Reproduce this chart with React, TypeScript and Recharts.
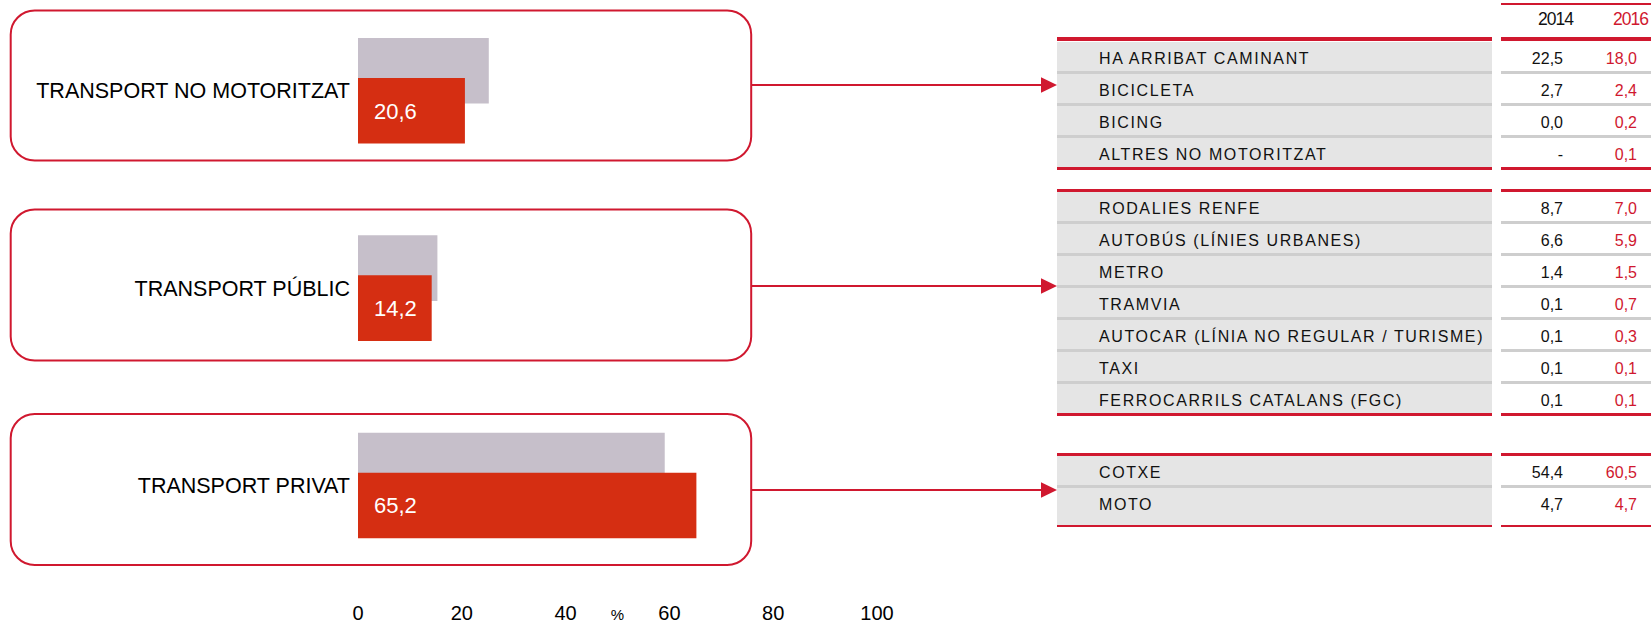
import * as React from "react";
import { BarChart, Bar, XAxis, YAxis, LabelList, Label } from "recharts";

// left chart: share of each transport group (%)
const CATEGORIES = ["TRANSPORT NO MOTORITZAT", "TRANSPORT PÚBLIC", "TRANSPORT PRIVAT"];
const SHARE_2014 = [25.2, 15.3, 59.1];
const SHARE_2016 = [20.6, 14.2, 65.2];
const X_TICKS = [0, 20, 40, 60, 80, 100];

// right table: detail per mode
const YEARS = ["2014", "2016"];
const NO_MOTOR_LABELS = ["HA ARRIBAT CAMINANT", "BICICLETA", "BICING", "ALTRES NO MOTORITZAT"];
const NO_MOTOR_2014 = [22.5, 2.7, 0.0, null];
const NO_MOTOR_2016 = [18.0, 2.4, 0.2, 0.1];
const PUBLIC_LABELS = [
  "RODALIES RENFE",
  "AUTOBÚS (LÍNIES URBANES)",
  "METRO",
  "TRAMVIA",
  "AUTOCAR (LÍNIA NO REGULAR / TURISME)",
  "TAXI",
  "FERROCARRILS CATALANS (FGC)",
];
const PUBLIC_2014 = [8.7, 6.6, 1.4, 0.1, 0.1, 0.1, 0.1];
const PUBLIC_2016 = [7.0, 5.9, 1.5, 0.7, 0.3, 0.1, 0.1];
const PRIVATE_LABELS = ["COTXE", "MOTO"];
const PRIVATE_2014 = [54.4, 4.7];
const PRIVATE_2016 = [60.5, 4.7];

const FONT = '"Liberation Sans", Arial, sans-serif';
const LINE_RED = "#d0182f";
const BAR_RED = "#d52e12";
const BAR_GREY = "#c6bfca";
const ROW_FILL = "#e5e5e5";
const ROW_SEP = "#cecece";

const fmt = (v: number | null) => (v === null ? "-" : v.toFixed(1).replace(".", ","));

const chartData = CATEGORIES.map((name, i) => ({
  name,
  y2014: SHARE_2014[i],
  y2016: SHARE_2016[i],
}));

// frames + arrows around the bar groups
const FRAMES = [
  { top: 10.5, bottom: 160.5, arrowY: 85 },
  { top: 209.5, bottom: 360.5, arrowY: 286 },
  { top: 414, bottom: 565, arrowY: 490 },
];

const LABEL_X0 = 1057;
const LABEL_X1 = 1492;
const NUM_X0 = 1501;
const NUM_X1 = 1651;
const ROW_H = 32;

function CategoryTick(props: any) {
  const { x, y, payload } = props;
  return (
    <text x={x} y={y} dy="0.36em" textAnchor="end" fill="#000" fontSize={21.5} fontFamily={FONT}>
      {payload.value}
    </text>
  );
}

function ValueTick(props: any) {
  const { x, y, payload } = props;
  return (
    <text x={x} y={y + 28} textAnchor="middle" fill="#000" fontSize={20} fontFamily={FONT}>
      {payload.value}
    </text>
  );
}

function PercentLabel(props: any) {
  const vb = props.viewBox;
  return (
    <text x={vb.x + vb.width / 2} y={vb.y + 36} textAnchor="middle" fill="#000" fontSize={15} fontFamily={FONT}>
      %
    </text>
  );
}

function BarValue(props: any) {
  const { x, y, height, value } = props;
  return (
    <text x={x + 16} y={y + height / 2} dy="0.36em" fill="#fff" fontSize={22} fontFamily={FONT}>
      {fmt(value)}
    </text>
  );
}

function abs(left: number, top: number, width: number, height: number, background: string): React.CSSProperties {
  return { position: "absolute", left, top, width, height, background };
}

function TableGroup(props: {
  top: number;
  lineH: number;
  extra: number;
  labels: string[];
  v2014: (number | null)[];
  v2016: (number | null)[];
}) {
  const { top, lineH, extra, labels, v2014, v2016 } = props;
  const total = labels.length * ROW_H + extra;
  return (
    <>
      <div style={abs(LABEL_X0, top, LABEL_X1 - LABEL_X0, total, ROW_FILL)} />
      <div style={abs(LABEL_X0, top - lineH, LABEL_X1 - LABEL_X0, lineH, LINE_RED)} />
      <div style={abs(NUM_X0, top - lineH, NUM_X1 - NUM_X0, lineH, LINE_RED)} />
      {labels.map((lab, i) => {
        const y = top + i * ROW_H;
        const last = i === labels.length - 1;
        const bottom = y + ROW_H + (last ? extra : 0);
        const sep = last ? LINE_RED : ROW_SEP;
        return (
          <React.Fragment key={lab}>
            <div style={abs(LABEL_X0, bottom - 2.5, LABEL_X1 - LABEL_X0, 2.5, sep)} />
            <div style={abs(NUM_X0, bottom - 2.5, NUM_X1 - NUM_X0, 2.5, sep)} />
            <div
              style={{
                position: "absolute",
                left: 1099,
                top: y + 17,
                transform: "translateY(-50%)",
                fontSize: 16,
                lineHeight: 1,
                letterSpacing: 1.6,
                whiteSpace: "nowrap",
                color: "#111",
              }}
            >
              {lab}
            </div>
            <div
              style={{
                position: "absolute",
                left: 1503,
                width: 60,
                top: y + 17,
                transform: "translateY(-50%)",
                fontSize: 16,
                lineHeight: 1,
                textAlign: "right",
                color: "#111",
              }}
            >
              {fmt(v2014[i])}
            </div>
            <div
              style={{
                position: "absolute",
                left: 1577,
                width: 60,
                top: y + 17,
                transform: "translateY(-50%)",
                fontSize: 16,
                lineHeight: 1,
                textAlign: "right",
                color: LINE_RED,
              }}
            >
              {fmt(v2016[i])}
            </div>
          </React.Fragment>
        );
      })}
    </>
  );
}

export default function App() {
  return (
    <div
      style={{
        position: "absolute",
        left: 0,
        top: 0,
        width: 1651,
        height: 625,
        overflow: "hidden",
        background: "#fff",
        fontFamily: FONT,
      }}
    >
      <svg width={1651} height={625} style={{ position: "absolute", left: 0, top: 0 }}>
        {FRAMES.map((f) => (
          <g key={f.top}>
            <rect
              x={10.7}
              y={f.top}
              width={740.5}
              height={f.bottom - f.top}
              rx={24}
              ry={24}
              fill="none"
              stroke={LINE_RED}
              strokeWidth={2}
            />
            <line x1={751} y1={f.arrowY} x2={1043} y2={f.arrowY} stroke={LINE_RED} strokeWidth={2} />
            <polygon
              points={`1041,${f.arrowY - 7.7} 1057,${f.arrowY} 1041,${f.arrowY + 7.7}`}
              fill={LINE_RED}
            />
          </g>
        ))}
      </svg>

      <div style={{ position: "absolute", left: 0, top: -8 }}>
        <BarChart
          width={900}
          height={633}
          data={chartData}
          layout="vertical"
          margin={{ top: 0, right: 23, bottom: 11, left: 0 }}
          barSize={65.6}
          barGap={-25.6}
        >
          <XAxis
            type="number"
            domain={[0, 100]}
            ticks={X_TICKS}
            axisLine={false}
            tickLine={false}
            tick={<ValueTick />}
            height={30}
          >
            <Label position="insideBottom" content={<PercentLabel />} />
          </XAxis>
          <YAxis
            type="category"
            dataKey="name"
            width={358}
            axisLine={false}
            tickLine={false}
            tick={<CategoryTick />}
          />
          <Bar dataKey="y2014" fill={BAR_GREY} isAnimationActive={false} />
          <Bar dataKey="y2016" fill={BAR_RED} isAnimationActive={false}>
            <LabelList dataKey="y2016" content={<BarValue />} />
          </Bar>
        </BarChart>
      </div>

      {/* header */}
      <div style={abs(NUM_X0, 2.7, NUM_X1 - NUM_X0, 2.6, LINE_RED)} />
      {YEARS.map((yr, i) => (
        <div
          key={yr}
          style={{
            position: "absolute",
            left: i === 0 ? 1513 : 1588,
            width: 60,
            top: 19.7,
            transform: "translateY(-50%)",
            fontSize: 17.5,
            lineHeight: 1,
            letterSpacing: -1,
            textAlign: "right",
            color: i === 0 ? "#111" : LINE_RED,
          }}
        >
          {yr}
        </div>
      ))}

      <TableGroup top={41.5} lineH={4.2} extra={0} labels={NO_MOTOR_LABELS} v2014={NO_MOTOR_2014} v2016={NO_MOTOR_2016} />
      <TableGroup top={191.5} lineH={2.5} extra={0} labels={PUBLIC_LABELS} v2014={PUBLIC_2014} v2016={PUBLIC_2016} />
      <TableGroup top={455.7} lineH={2.5} extra={7.5} labels={PRIVATE_LABELS} v2014={PRIVATE_2014} v2016={PRIVATE_2016} />
    </div>
  );
}
